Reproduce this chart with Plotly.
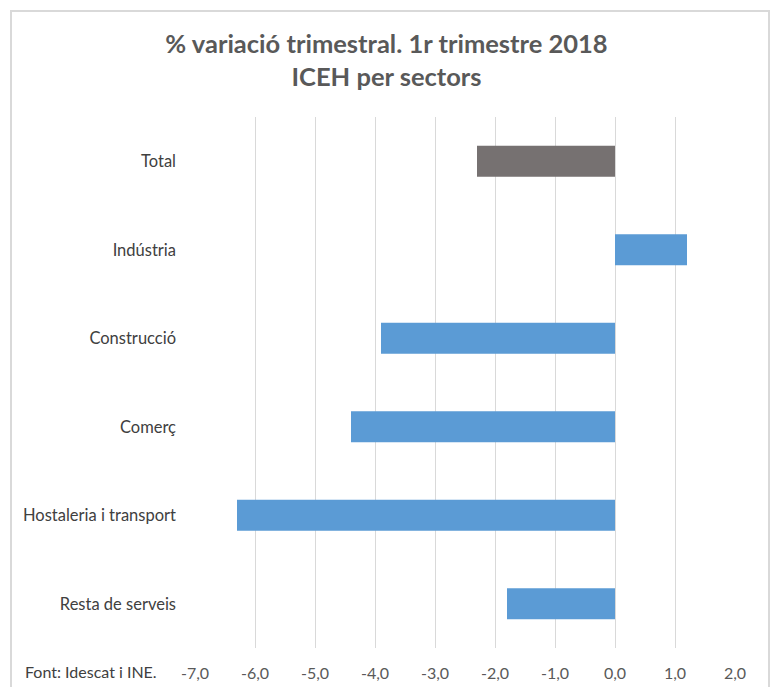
import plotly.graph_objects as go

categories = ["Total", "Indústria", "Construcció", "Comerç", "Hostaleria i transport", "Resta de serveis"]
values = [-2.3, 1.2, -3.9, -4.4, -6.3, -1.8]
tick_vals = [-7, -6, -5, -4, -3, -2, -1, 0, 1, 2]
tick_text = ["-7,0", "-6,0", "-5,0", "-4,0", "-3,0", "-2,0", "-1,0", "0,0", "1,0", "2,0"]
colors = ["#767171"] + ["#5B9BD5"] * 5

W, H = 773, 687
L, R, T, B = 195, 38, 117, 39
pw, ph = W - L - R, H - T - B

def px_x(x):
    return (x - L) / pw

def px_y(y):
    return (H - B - y) / ph

fig = go.Figure(go.Bar(
    x=values, y=categories, orientation="h",
    marker=dict(color=colors, line=dict(width=0)),
    width=0.35,
))

fig.update_layout(
    width=W, height=H,
    margin=dict(l=L, r=R, t=T, b=B, autoexpand=False),
    paper_bgcolor="white", plot_bgcolor="white",
    font=dict(family="Lato, 'Open Sans', sans-serif", color="#404040", size=16),
    showlegend=False,
    title=dict(
        text="% variació trimestral. 1r trimestre 2018<br>ICEH per sectors",
        x=0.5, xanchor="center", xref="container",
        y=1 - 53 / H, yanchor="top", yref="container",
        font=dict(size=25.5, color="#595959", family="Lato, sans-serif", weight="bold"),
    ),
    xaxis=dict(
        range=[-7, 2], tickvals=tick_vals, ticktext=tick_text,
        showgrid=True, gridcolor="#D9D9D9", gridwidth=1,
        zeroline=False, showline=False, ticks="",
        tickfont=dict(size=16, color="#595959"),
        ticklabelstandoff=14, automargin=False,
        fixedrange=True,
    ),
    yaxis=dict(
        autorange="reversed", showgrid=False, zeroline=False, showline=False,
        ticks="", ticklabelstandoff=18, automargin=False,
        tickfont=dict(size=16.5, color="#404040"),
    ),
    shapes=[dict(
        type="rect", xref="paper", yref="paper",
        x0=px_x(11), x1=px_x(769), y0=px_y(720), y1=px_y(11),
        line=dict(color="#D9D9D9", width=2), fillcolor="rgba(0,0,0,0)",
        layer="below",
    )],
    annotations=[dict(
        text="Font: Idescat i INE.", xref="paper", yref="paper",
        x=px_x(23), y=px_y(671), xanchor="left", yanchor="middle",
        showarrow=False, font=dict(size=16, color="#404040"),
    )],
)

fig.write_html("out.html", config={"displayModeBar": False},
               post_script="document.body.style.margin='0';")
